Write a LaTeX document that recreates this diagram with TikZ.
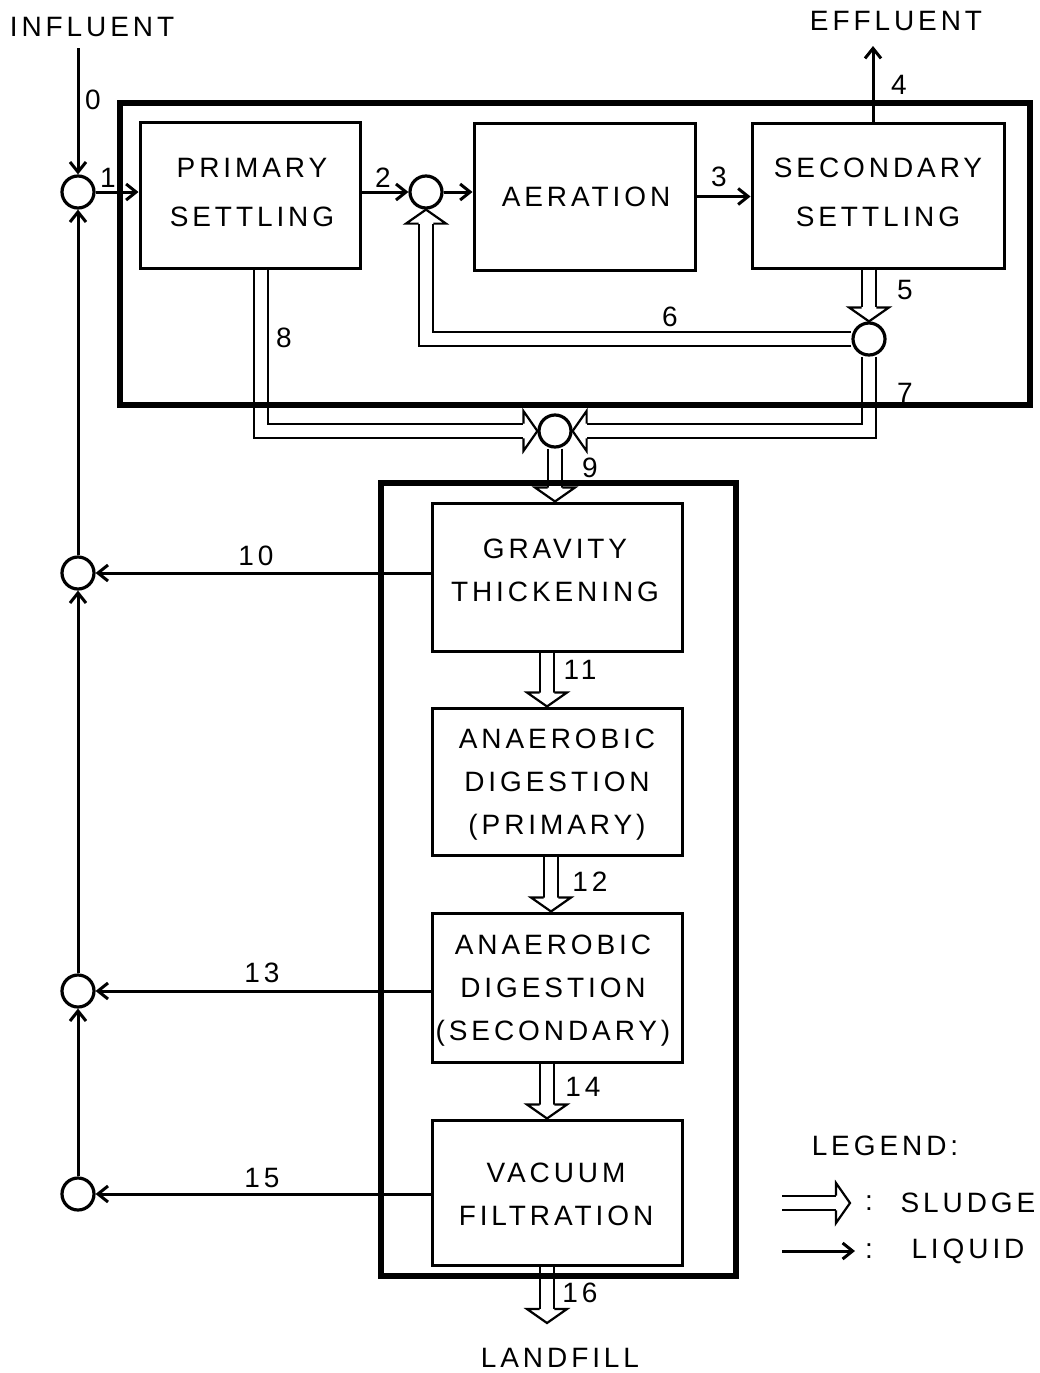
\documentclass[tikz,border=0pt]{standalone}
\usepackage{fontspec}
\setmainfont{Liberation Sans}[LetterSpace=14]
\usetikzlibrary{arrows.meta,calc}
\tikzset{
  shead/.pic={\draw[line width=2.2pt, fill=white, line join=miter] (-14,-7.35) -- (-14,-20) -- (0,0) -- (-14,20) -- (-14,7.35);}
}
\begin{document}
\begin{tikzpicture}[x=1pt,y=-1pt,
  every node/.style={inner sep=0pt, font=\fontsize{28}{34}\selectfont},
  proc/.style={draw, line width=3pt, align=center},
  tb/.style={font=\fontsize{28}{49}\selectfont, align=center},
  bb/.style={font=\fontsize{28}{43}\selectfont, align=center},
  circ/.style={circle, draw, line width=3.2pt, minimum size=32pt, inner sep=0pt},
  liq/.style={line width=3pt, -{Straight Barb[length=10pt,width=16pt]}},
  sl/.style={double, double distance=12.5pt, line width=2.2pt, line join=miter},
  frame/.style={draw, line width=6.5pt},
  lab/.style={}]
\useasboundingbox (0,0) rectangle (1039,1373);

% process boxes
\node[proc, minimum width=220pt, minimum height=146pt] (ps) at (250,195) {};
\node[tb] (pst) at (252,193) {PRIMARY\\SETTLING};
\node[proc, minimum width=221pt, minimum height=147pt] (aer) at (584.5,196.5) {};
\node[tb] (aert) at (586,197) {AERATION};
\node[proc, minimum width=252pt, minimum height=145pt] (ss) at (878,195.5) {};
\node[tb] (sst) at (878,192) {SECONDARY\\SETTLING};
\node[proc, minimum width=250pt, minimum height=148pt] (gt) at (557,577) {};
\node[bb] (gtt) at (555,570) {GRAVITY\\THICKENING};
\node[proc, minimum width=250pt, minimum height=147pt] (adp) at (557,781.5) {};
\node[bb] (adpt) at (557,785) {ANAEROBIC\\DIGESTION\\(PRIMARY)};
\node[proc, minimum width=250pt, minimum height=149pt] (ads) at (557,987.5) {};
\node[bb] (adst) at (553,991) {ANAEROBIC\\DIGESTION\\(SECONDARY)};
\node[proc, minimum width=250pt, minimum height=145pt] (vf) at (557,1192.5) {};
\node[bb] (vft) at (556,1194) {VACUUM\\FILTRATION};

% junctions
\node[circ] (c1) at (78,192) {};
\node[circ] (c2) at (426,192) {};
\node[circ] (c5) at (869,339) {};
\node[circ] (cm) at (555,431) {};
\node[circ] (c10) at (78,573) {};
\node[circ] (c13) at (78,991) {};
\node[circ] (c15) at (78,1194) {};

\coordinate (inftop) at (78,48);
\coordinate (effend) at (873,46);
\coordinate (lf) at (547,1323);

% texts
\node (influent) at (92,27) {INFLUENT};
\node (effluent) at (896,21) {EFFLUENT};
\node (landfill) at (560,1358) {LANDFILL};

% liquid flows
\draw[liq] (inftop) -- (c1.north);
\draw[liq] (c1.east) -- (c1 -| ps.west);
\draw[liq] (c2 -| ps.east) -- (c2.west);
\draw[liq] (c2.east) -- (c2 -| aer.west);
\draw[liq] (aer.east) -- (aer.east -| ss.west);
\draw[liq] (ss.north -| effend) -- (effend);
\draw[liq] (c10 -| gt.west) -- (c10.east);
\draw[liq] (c13 -| ads.west) -- (c13.east);
\draw[liq] (c15 -| vf.west) -- (c15.east);
\draw[liq] (c15.north) -- (c13.south);
\draw[liq] (c13.north) -- (c10.south);
\draw[liq] (c10.north) -- (c1.south);

% sludge flows
\draw[sl] (ss.south -| c5) -- ($(c5.north)+(0,-14)$);
\pic[rotate=-90] at (c5.north) {shead};
\draw[sl] (c5.west) -| ($(c2.south)+(0,14)$);
\pic[rotate=90] at (c2.south) {shead};
\draw[sl] (c5.south) |- ($(cm.east)+(14,0)$);
\pic[rotate=180] at (cm.east) {shead};
\draw[sl] ($(ps.south)+(11,0)$) |- ($(cm.west)+(-14,0)$);
\pic at (cm.west) {shead};
\draw[sl] (cm.south) -- ($(cm.south |- gt.north)+(0,-14)$);
\pic[rotate=-90] at (cm.south |- gt.north) {shead};
\draw[sl] ($(gt.south)+(-10,0)$) -- ($(adp.north)+(-10,-14)$);
\pic[rotate=-90] at ($(adp.north)+(-10,0)$) {shead};
\draw[sl] ($(adp.south)+(-6,0)$) -- ($(ads.north)+(-6,-14)$);
\pic[rotate=-90] at ($(ads.north)+(-6,0)$) {shead};
\draw[sl] ($(ads.south)+(-10,0)$) -- ($(vf.north)+(-10,-14)$);
\pic[rotate=-90] at ($(vf.north)+(-10,0)$) {shead};
\draw[sl] ($(vf.south)+(-10,0)$) -- ($(lf)+(0,-14)$);
\pic[rotate=-90] at (lf) {shead};

% frames
\draw[frame] (120,103) rectangle (1030,405);
\draw[frame] (381,483) rectangle (736,1276);

% flow numbers
\node[lab] (l0) at (93,100) {0};
\node[lab] (l1) at (108,178) {1};
\node[lab] (l2) at (383,178) {2};
\node[lab] (l3) at (719,177) {3};
\node[lab] (l4) at (899,85) {4};
\node[lab] (l5) at (905,290) {5};
\node[lab] (l6) at (670,317) {6};
\node[lab] (l7) at (905,393) {7};
\node[lab] (l8) at (284,338) {8};
\node[lab] (l9) at (590,468) {9};
\node[lab] (l10) at (256,556) {10};
\node[lab] (l11) at (580,670) {11};
\node[lab] (l12) at (590,882) {12};
\node[lab] (l13) at (262,973) {13};
\node[lab] (l14) at (583,1087) {14};
\node[lab] (l15) at (262,1178) {15};
\node[lab] (l16) at (580,1293) {16};

% legend
\node (legend) at (885,1146) {LEGEND:};
\coordinate (lgs) at (782,1203);
\coordinate (lgse) at (850,1203);
\draw[sl] (lgs) -- ($(lgse)+(-14,0)$);
\pic at (lgse) {shead};
\node (lgc1) at (869,1203) {:};
\node (lgsl) at (968,1203) {SLUDGE};
\coordinate (lls) at (782,1251);
\coordinate (lle) at (855,1251);
\draw[liq] (lls) -- (lle);
\node (lgc2) at (869,1251) {:};
\node (lgli) at (968,1251) {LIQUID};
\end{tikzpicture}
\end{document}
